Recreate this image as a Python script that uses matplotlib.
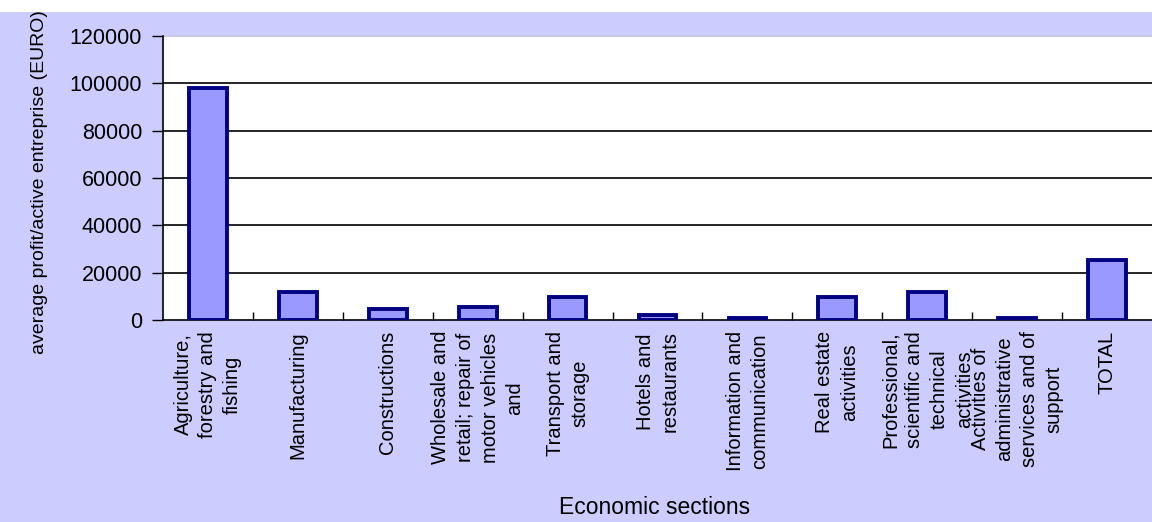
import matplotlib
matplotlib.use("Agg")
import matplotlib.pyplot as plt
from matplotlib.patches import Rectangle
import numpy as np

categories = [
    "Agriculture,\nforestry and\nfishing",
    "Manufacturing",
    "Constructions",
    "Wholesale and\nretail; repair of\nmotor vehicles\nand",
    "Transport and\nstorage",
    "Hotels and\nrestaurants",
    "Information and\ncommunication",
    "Real estate\nactivities",
    "Professional,\nscientific and\ntechnical\nactivities",
    "Activities of\nadministrative\nservices and of\nsupport",
    "TOTAL",
]
values = [98000, 12000, 4800, 5500, 9700, 2300, 900, 9700, 12000, 900, 25200]
yticks = [0, 20000, 40000, 60000, 80000, 100000, 120000]
ylabel = "average profit/active entreprise (EURO)"
xlabel = "Economic sections"

plt.rcParams['font.family'] = ['Liberation Sans', 'DejaVu Sans']

W, H = 1152, 522
fig = plt.figure(figsize=(W / 100, H / 100), dpi=100)
fig.patch.set_facecolor("white")
fig.patches.append(Rectangle((0, 0), 1, 1 - 12 / H, transform=fig.transFigure,
                             facecolor="#ccccff", edgecolor="none", zorder=-10))

left, right, top, bottom = 163, 1152, 36, 320
ax = fig.add_axes([left / W, 1 - bottom / H, (right - left) / W, (bottom - top) / H])
ax.set_facecolor("white")

x = np.arange(len(categories))
ax.bar(x, values, width=0.42, color="#9999ff", edgecolor="#000080", linewidth=2.8, zorder=3)

ax.set_xlim(-0.5, len(categories) - 0.5)
ax.set_ylim(0, 120000)
ax.set_yticks(yticks)
ax.set_yticklabels([str(v) for v in yticks], fontsize=15.5)
for v in yticks[1:]:
    ax.axhline(v, color="black" if v < 120000 else "#bbbbbb", linewidth=1.2, zorder=1)

ax.set_xticks(x)
ax.set_xticklabels([])
ax.tick_params(axis="x", length=0)
# minor ticks between categories, pointing inward
ax.set_xticks(np.arange(0.5, len(categories) - 0.5, 1), minor=True)
ax.tick_params(axis="x", which="minor", direction="in", length=6, width=1, color="black")
ax.tick_params(axis="y", direction="out", length=8, width=1, pad=7, color="black")

for s in ["top", "right"]:
    ax.spines[s].set_visible(False)
ax.spines["left"].set_linewidth(1.2)
ax.spines["bottom"].set_linewidth(1.2)

for xi, lab in zip(x, categories):
    ax.annotate(lab, xy=(xi, 0), xycoords=("data", "axes fraction"),
                xytext=(0, -11), textcoords="offset pixels",
                rotation=90, ha="center", va="top", multialignment="center",
                fontsize=14.5, linespacing=1.38)

fig.text(40 / W, 1 - 182 / H, ylabel, rotation=90, ha="center", va="center", fontsize=14)
fig.text(((left + right) / 2 - 3) / W, 1 - 508 / H, xlabel, ha="center", va="center", fontsize=16.5)

fig.savefig("out.png", dpi=100, facecolor=fig.get_facecolor())
